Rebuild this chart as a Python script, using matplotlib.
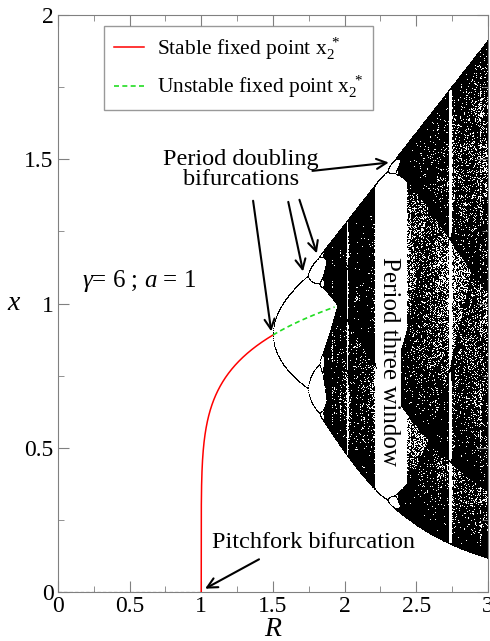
import numpy as np
import matplotlib
matplotlib.use('Agg')
import matplotlib.pyplot as plt
from matplotlib.ticker import MultipleLocator

matplotlib.rcParams['font.family'] = ['Liberation Serif', 'DejaVu Serif']
matplotlib.rcParams['mathtext.fontset'] = 'custom'
matplotlib.rcParams['mathtext.rm'] = 'Liberation Serif'
matplotlib.rcParams['mathtext.it'] = 'Liberation Serif:italic'
matplotlib.rcParams['font.size'] = 16

# model parameters shown on the chart: x -> R x / (1 + a x^gamma)
gamma = 6
a = 1
R_stable = (1.0, 1.5)      # stable x2* branch
R_unstable = (1.5, 1.93)   # unstable x2* branch (drawn up to chaos onset)
R_zero = (0.0, 1.0)        # x1* = 0 branch
R_bif = (1.5, 3.0)         # range of the orbit diagram
n_R = 1000
n_transient = 800
n_keep = 260


def f(x, R):
    return R * x / (1 + a * x**gamma)


def fixed_point(R):
    return ((R - 1) / a) ** (1.0 / gamma)


fig = plt.figure(figsize=(4.9, 6.41), dpi=100)
ax = fig.add_axes([0.118, 0.0764, 0.878, 0.900])

# orbit diagram
Rs = np.linspace(R_bif[0], R_bif[1], n_R)
x = np.full_like(Rs, 0.5)
for i in range(n_transient):
    x = f(x, Rs)
pts_R, pts_x = [], []
for i in range(n_keep):
    x = f(x, Rs)
    pts_R.append(Rs.copy())
    pts_x.append(x.copy())
pts_R = np.concatenate(pts_R)
pts_x = np.concatenate(pts_x)
ax.plot(pts_R, pts_x, ',', color='black', rasterized=True, zorder=1)

# fixed points
r0 = np.linspace(R_zero[0], R_zero[1], 2)
ax.plot(r0, np.zeros_like(r0), '--', color='black', lw=0.8, dashes=(3, 2), zorder=3)
r1 = 1 + (R_stable[1] - 1) * np.linspace(0, 1, 400) ** 3
ax.plot(r1, fixed_point(r1), '-', color='red', lw=1.1, zorder=3,
        label=r'Stable fixed point x$_2^{\ *}$')
r2 = np.linspace(R_unstable[0], R_unstable[1], 100)
ax.plot(r2, fixed_point(r2), '--', color='#22dd22', lw=1.2, dashes=(3, 2), zorder=3,
        label=r'Unstable fixed point x$_2^{\ *}$')

ax.set_xlim(0, 3)
ax.set_ylim(0, 2)
ax.xaxis.set_minor_locator(MultipleLocator(0.25))
ax.yaxis.set_minor_locator(MultipleLocator(0.25))
ax.set_xticks([0, 0.5, 1, 1.5, 2, 2.5, 3])
ax.set_xticklabels(['0', '0.5', '1', '1.5', '2', '2.5', '3'])
ax.set_yticks([0, 0.5, 1, 1.5, 2])
ax.set_yticklabels(['0', '0.5', '1', '1.5', '2'])
ax.tick_params(which='both', direction='in', top=True, right=True, color='#808080', labelsize=17)
ax.tick_params(which='major', length=8, pad=3)
ax.tick_params(which='minor', length=4)
for s in ax.spines.values():
    s.set_color('#808080')
ax.set_xlabel('R', style='italic', fontsize=20, labelpad=0)
ax.set_ylabel('x', style='italic', fontsize=20, rotation=0, labelpad=8, va='center')

leg = ax.legend(loc='upper left', bbox_to_anchor=(0.107, 0.982), fontsize=15.5,
                frameon=True, fancybox=False, handlelength=1.4, borderpad=0.45,
                labelspacing=0.55, handletextpad=0.6, borderaxespad=0)
leg.get_frame().set_edgecolor('#808080')
leg.get_frame().set_linewidth(1.0)

ax.text(0.17, 1.08, r'$\gamma$= 6 ; $a$ = $1$', fontsize=18, va='center')
ax.text(2.31, 0.80, 'Period three window', rotation=-90, fontsize=18,
        ha='center', va='center',
        bbox=dict(facecolor='white', edgecolor='none', pad=0.5))

ax.text(1.275, 1.465, 'Period doubling\nbifurcations', fontsize=17.5,
        ha='center', va='center', linespacing=0.9)
arrow = dict(arrowstyle='->', color='black', lw=1.5, mutation_scale=18)
ax.annotate('', xy=(2.327, 1.49), xytext=(1.756, 1.459), arrowprops=arrow)
ax.annotate('', xy=(1.491, 0.894), xytext=(1.359, 1.366), arrowprops=arrow)
ax.annotate('', xy=(1.714, 1.102), xytext=(1.603, 1.362), arrowprops=arrow)
ax.annotate('', xy=(1.812, 1.165), xytext=(1.679, 1.369), arrowprops=arrow)

ax.text(1.78, 0.17, 'Pitchfork bifurcation', fontsize=17.5, ha='center', va='center')
ax.annotate('', xy=(1.01, 0.007), xytext=(1.42, 0.118), arrowprops=arrow)

fig.savefig('out.png', dpi=100)
